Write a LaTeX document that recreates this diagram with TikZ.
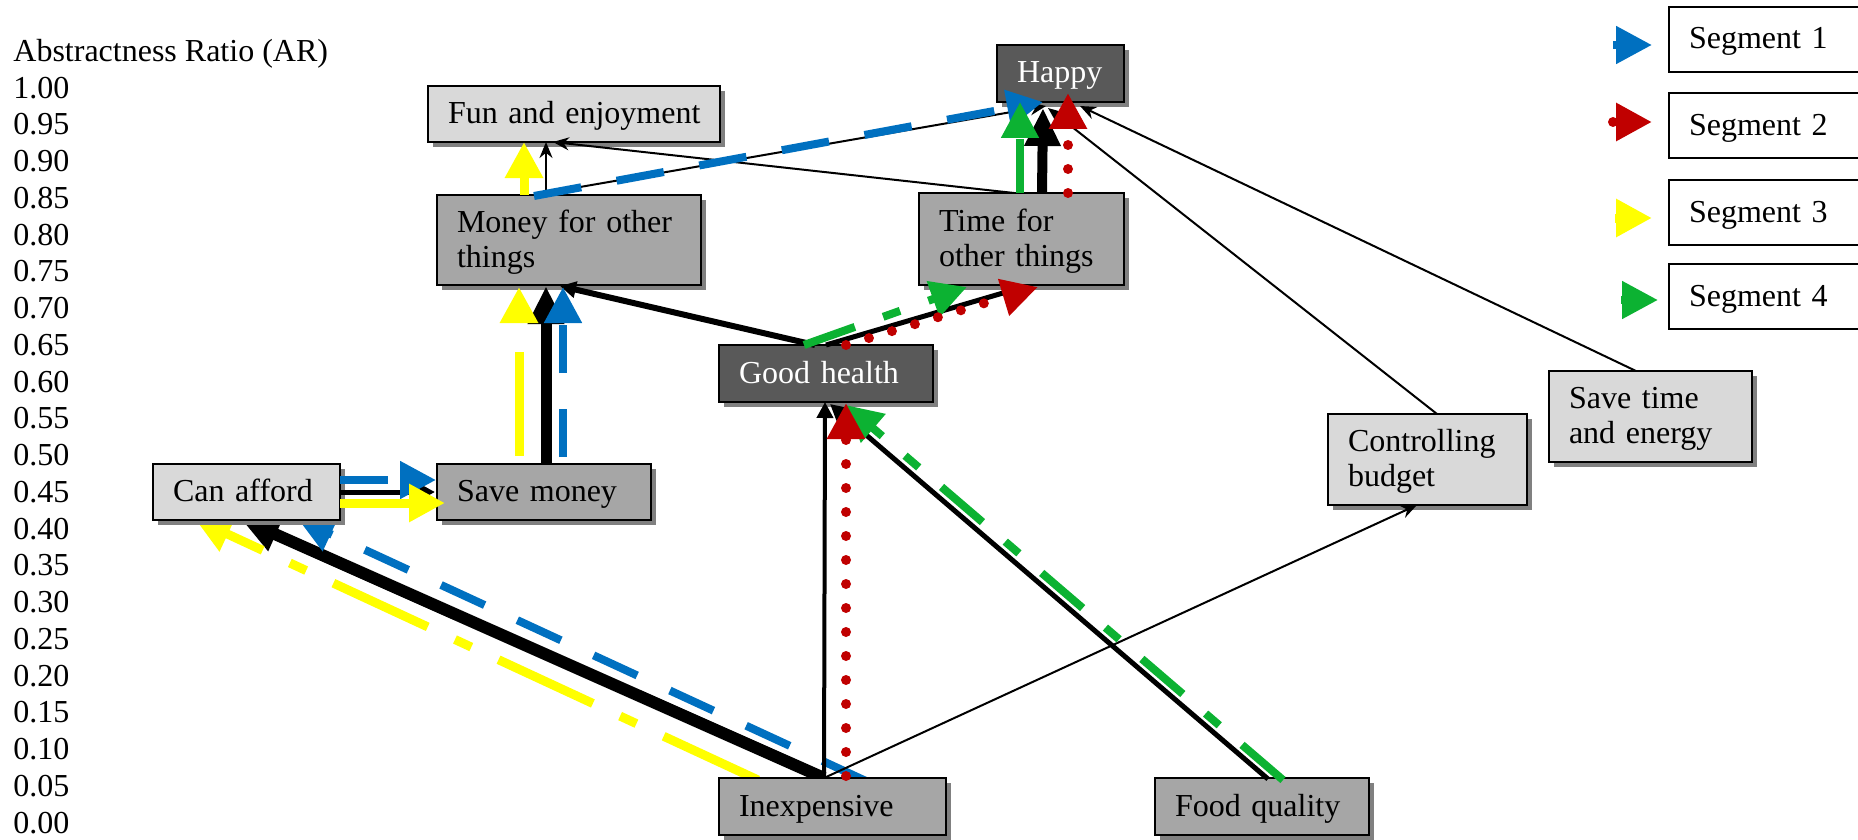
\documentclass[tikz,border=0pt]{standalone}
\usepackage{fontspec}
\setmainfont{Liberation Serif}
\usetikzlibrary{arrows.meta,shadows,calc}

\definecolor{segblue}{HTML}{0070C0}
\definecolor{segred}{HTML}{C00000}
\definecolor{segyellow}{HTML}{FFFF00}
\definecolor{seggreen}{HTML}{0CB232}
\definecolor{boxlight}{HTML}{D9D9D9}
\definecolor{boxmid}{HTML}{A6A6A6}
\definecolor{boxdark}{HTML}{595959}
\definecolor{shade}{HTML}{808080}

\pgfdeclarelayer{background}
\pgfsetlayers{background,main}

% every text line: fixed left indent, fixed height and depth
\newcommand\lnstrut{\hspace*{10pt}\rule[-4pt]{0pt}{17.5pt}}

\tikzset{
  cbox/.style={draw=black, line width=1.1pt, inner xsep=0pt, inner ysep=0pt,
    outer sep=0pt, anchor=north west, align=left,
    drop shadow={shadow xshift=2.5pt, shadow yshift=-2.5pt, fill=shade, opacity=1}},
  light/.style={cbox, fill=boxlight},
  mid/.style={cbox, fill=boxmid},
  dark/.style={cbox, fill=boxdark, text=white},
  legbox/.style={draw=black, line width=1.1pt, fill=white, inner xsep=0pt,
    inner ysep=0pt, outer sep=0pt, anchor=north west, align=left,
    minimum height=32.5pt, text width=100pt},
  axislbl/.style={anchor=base west, inner sep=0pt},
  agg/.style={draw=black, line width=1pt, -{Stealth[length=8pt,width=6.5pt]}},
  heavy/.style={draw=black, line width=#1, -{Triangle[length=8pt,width=8pt]}},
  bigheavy/.style={draw=black, line width=#1, -{Triangle[length=19pt,width=17pt]}},
  bl/.style={draw=segblue, line width=4pt, dash pattern=on 24pt off 18pt,
    -{Triangle[length=18pt,width=18pt]}},
  rd/.style={draw=segred, line width=5pt, line cap=round, dash pattern=on 0pt off 12pt,
    -{Triangle[length=18pt,width=18pt]}},
  yl/.style={draw=segyellow, line width=4.5pt,
    dash pattern=on 52pt off 15pt on 9pt off 15pt,
    -{Triangle[length=18pt,width=18pt]}},
  gr/.style={draw=seggreen, line width=4pt,
    dash pattern=on 27pt off 15pt on 9pt off 15pt,
    -{Triangle[length=18pt,width=18pt]}},
}

\begin{document}
\begin{tikzpicture}[x=0.5pt, y=-0.5pt,
    every node/.append style={font=\fontsize{16pt}{17.5pt}\selectfont}]
\useasboundingbox (0,0) rectangle (1858,840);

% abstractness ratio scale
\node[axislbl] (arhead) at (13,61.25) {Abstractness Ratio (AR)};
\foreach \v [count=\k from 0] in {1.00,0.95,0.90,0.85,0.80,0.75,0.70,0.65,0.60,0.55,
    0.50,0.45,0.40,0.35,0.30,0.25,0.20,0.15,0.10,0.05,0.00}
  \node[axislbl] (ar\k) at (13,{98+36.75*\k}) {\v};

% ladder elements
\node[light, minimum height=28pt, text width=146pt]
  (fun) at (428,86) {\lnstrut Fun and enjoyment};
\node[mid, minimum height=45pt, text width=132pt]
  (money) at (437,195) {\lnstrut Money for other\\\lnstrut things};
\node[dark, minimum height=28.5pt, text width=107pt]
  (health) at (719,345) {\lnstrut Good health};
\node[mid, minimum height=46pt, text width=102.5pt]
  (time) at (919,193) {\lnstrut Time for\\\lnstrut other things};
\node[dark, minimum height=28.5pt, text width=63.5pt]
  (happy) at (997,45) {\lnstrut Happy};
\node[light, minimum height=28pt, text width=93.5pt]
  (afford) at (153,464) {\lnstrut Can afford};
\node[mid, minimum height=28pt, text width=107pt]
  (save) at (437,464) {\lnstrut Save money};
\node[mid, minimum height=28.5pt, text width=113.5pt]
  (inexp) at (719,778) {\lnstrut Inexpensive};
\node[mid, minimum height=28.5pt, text width=107pt]
  (food) at (1155,778) {\lnstrut Food quality};
\node[light, minimum height=45.5pt, text width=99.5pt]
  (budget) at (1328,414) {\lnstrut Controlling\\\lnstrut budget};
\node[light, minimum height=45.5pt, text width=101.5pt]
  (savetime) at (1549,371) {\lnstrut Save time\\\lnstrut and energy};

% links into "Can afford" lie beneath the boxes
\begin{pgfonlayer}{background}
  \draw[bigheavy=6pt] ($(inexp.north west)+(105,0)$) -- ($(afford.south west)+(88,-1)$);
  \draw[bl] ($(inexp.north west)+(147,3)$) -- ($(afford.south west)+(145,-1)$);
  \draw[yl] ($(inexp.north west)+(39,2)$) -- ($(afford.south west)+(42,-1)$);
\end{pgfonlayer}

% aggregate links
\draw[agg] ($(money.north west)+(109,0)$) -- ($(fun.south west)+(118,0)$);
\draw[agg] ($(time.north west)+(95,0)$) -- ($(fun.south west)+(125,0)$);
\draw[agg] ($(money.north west)+(97,0)$) -- ($(happy.south west)+(49,4)$);
\draw[agg] ($(budget.north west)+(109,0)$) -- ($(happy.south west)+(51,6)$);
\draw[agg] ($(savetime.north west)+(87,0)$) -- ($(happy.south west)+(83,4)$);
\draw[agg] ($(inexp.north west)+(105,0)$) -- ($(budget.south west)+(89,0)$);
\draw[heavy=2.5pt] ($(food.north west)+(113,1)$) -- ($(health.south west)+(111,2)$);
\draw[heavy=2pt] ($(inexp.north west)+(105,0)$) -- ($(health.south west)+(106,0)$);
\draw[heavy=2.5pt] ($(health.north west)+(107,0)$) -- ($(time.south west)+(101,3)$);
\draw[heavy=3pt] ($(health.north west)+(96,0)$) -- ($(money.south west)+(123,1)$);
\draw[heavy=2.5pt] ($(afford.north east)+(0,28)$) -- ($(save.north west)+(-2,28)$);
\draw[bigheavy=5.5pt] ($(save.north west)+(109,0)$) -- ($(money.south west)+(109,1)$);
\draw[bigheavy=5pt] ($(time.north west)+(123,0)$) -- ($(happy.south west)+(46,6)$);

% segment 1
\draw[bl] ($(afford.north east)+(0,16)$) -- ($(save.north west)+(-1,16)$);
\draw[bl] ($(save.north west)+(126,-7)$) -- ($(money.south west)+(126,2)$);
\draw[bl] ($(money.north west)+(97,1)$) -- ($(happy.south west)+(46,0)$);
% segment 3
\draw[yl] ($(afford.north east)+(0,39)$) -- ($(save.north west)+(8,39)$);
\draw[yl] ($(save.north west)+(82,-8)$) -- ($(money.south west)+(82,2)$);
\draw[yl] ($(money.north west)+(87,0)$) -- ($(fun.south west)+(96,0)$);
% segment 4
\draw[gr] ($(food.north west)+(128,2)$) -- ($(health.south west)+(127,3)$);
\draw[gr] ($(health.north west)+(85,0)$) -- ($(time.south west)+(48,2)$);
\draw[gr] ($(time.north west)+(101,0)$) -- ($(happy.south west)+(23,0)$);
% segment 2
\draw[rd] ($(inexp.north west)+(127,-2)$) -- ($(health.south west)+(127,1)$);
\draw[rd] ($(health.north west)+(127,0)$) -- ($(time.south west)+(119,2)$);
\draw[rd] ($(time.north west)+(149,0)$) -- ($(happy.south west)+(71,-9)$);

% legend
\node[legbox] (seg1) at (1669,7) {\lnstrut Segment 1};
\node[legbox] (seg2) at (1669,93) {\lnstrut Segment 2};
\node[legbox] (seg3) at (1669,180) {\lnstrut Segment 3};
\node[legbox] (seg4) at (1669,264) {\lnstrut Segment 4};
\coordinate (k1a) at (1613,45);  \coordinate (k1b) at (1652,45);
\coordinate (k2a) at (1613,122); \coordinate (k2b) at (1652,122);
\coordinate (k3a) at (1615,218); \coordinate (k3b) at (1652,218);
\coordinate (k4a) at (1621,300); \coordinate (k4b) at (1658,300);
\draw[bl] (k1a) -- (k1b);
\draw[rd] (k2a) -- (k2b);
\draw[yl] (k3a) -- (k3b);
\draw[gr] (k4a) -- (k4b);
\end{tikzpicture}
\end{document}
